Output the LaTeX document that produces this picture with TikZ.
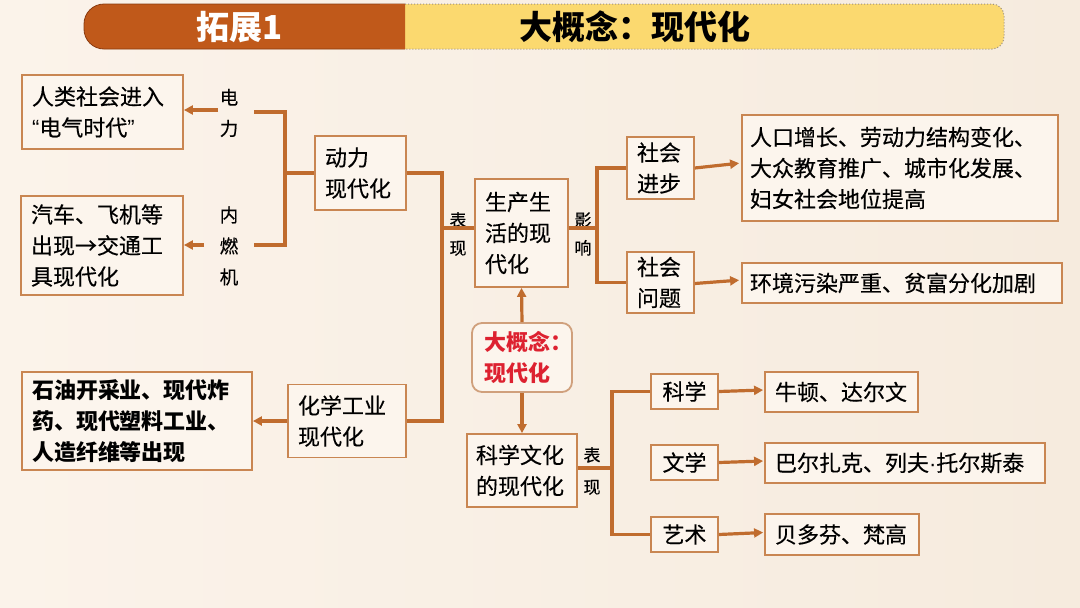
\documentclass[tikz,border=0pt]{standalone}
\usepackage{fontspec}
\setmainfont{Noto Sans CJK SC}[FakeBold=0.35, BoldFeatures={FakeBold=0}]
\newfontfamily\latinf{Liberation Sans}
\usetikzlibrary{arrows.meta}
\definecolor{bgl}{HTML}{FBF3EA}
\definecolor{bgr}{HTML}{F6EBDE}
\definecolor{boxc}{HTML}{C98652}
\definecolor{boxf}{HTML}{FCF5ED}
\definecolor{linec}{HTML}{C06C2E}
\definecolor{bannero}{HTML}{C0591A}
\definecolor{bannerd}{HTML}{8A3A0E}
\definecolor{bannery}{HTML}{FBD96F}
\definecolor{dotc}{HTML}{9C9080}
\definecolor{redc}{HTML}{DD2130}
\definecolor{dgbord}{HTML}{D0A07C}
\newcommand\bodyf{\fontsize{22pt}{31pt}\selectfont}
\newcommand\smallf{\fontsize{18.5pt}{31pt}\selectfont}
\newcommand\headf{\fontsize{33pt}{36pt}\selectfont\bfseries}
\begin{document}
\begin{tikzpicture}[x=1pt,y=-1pt,
  bx/.style={draw=boxc, line width=1.8pt, fill=boxf, inner xsep=10pt, inner ysep=0pt, align=left, font=\bodyf, text=black},
  bxc/.style={bx, align=center},
  lbl/.style={font=\smallf, align=center, inner sep=0pt, text=black},
  ln/.style={draw=linec, line width=3.2pt},
  arr/.style={draw=linec, line width=3.2pt, -{Triangle[length=9pt,width=9pt]}}
]
\useasboundingbox (0,0) rectangle (1080,608);
\shade[left color=bgl, right color=bgr] (0,0) rectangle (1080,608);

% banner
\fill[bannery] (405,4) -- (992,4) to[out=0,in=90] (1004,16) -- (1004,37) to[out=-90,in=0] (992,49) -- (405,49) -- cycle;
\draw[dotc, line width=1pt, dotted] (405,4) -- (992,4) to[out=0,in=90] (1004,16) -- (1004,37) to[out=-90,in=0] (992,49) -- (405,49);
\draw[bannerd, fill=bannero, line width=0.8pt, rounded corners=20pt] (405,4) -- (84,4) -- (84,49) -- (405,49);
\fill[bannero] (380,4.4) rectangle (405,48.6);
\node[font=\headf, text=white, inner sep=0pt] (h1) at (240,27) {拓展1};
\node[font=\headf, text=black, inner sep=0pt] (h2) at (635,27) {大概念：现代化};

% left boxes
\node[bx, text width=141pt, minimum height=74pt] (n1) at (102.5,112) {人类社会进入\\{\latinf “}电气时代{\latinf ”}};
\node[bx, text width=142pt, minimum height=99pt] (n2) at (102,245.5) {汽车、飞机等\\出现→交通工\\具现代化};
\node[bx, text width=71pt, minimum height=74pt] (dl) at (360.5,173) {动力\\现代化};
\node[bx, text width=98pt, minimum height=73pt] (ch) at (347,421) {化学工业\\现代化};
\node[bx, text width=210pt, minimum height=98pt, font=\bodyf\bfseries] (sy) at (137,421) {石油开采业、现代炸\\药、现代塑料工业、\\人造纤维等出现};

% centre
\node[bx, text width=73pt, minimum height=108pt] (sc) at (521.5,233) {生产生\\活的现\\代化};
\node[bx, draw=dgbord, rounded corners=10pt, inner xsep=12pt, text width=76pt, minimum height=69pt, text=redc, font=\bodyf\bfseries] (dg) at (522,357.5) {大概念：\\现代化};
\node[bx, inner xsep=9pt, text width=92pt, minimum height=73pt] (kx) at (522,470.5) {科学文化\\的现代化};

% right upper
\node[bx, text width=47pt, minimum height=62pt] (sj) at (660.5,168) {社会\\进步};
\node[bx, text width=47pt, minimum height=61pt] (sw) at (660.5,282.5) {社会\\问题};
\node[bx, inner xsep=8pt, text width=300pt, minimum height=106pt] (rk) at (900,168) {人口增长、劳动力结构变化、\\大众教育推广、城市化发展、\\妇女社会地位提高};
\node[bx, inner xsep=8pt, text width=304pt, minimum height=40pt] (hj) at (902,283) {环境污染严重、贫富分化加剧};

% right lower
\node[bxc, inner xsep=4pt, text width=59pt, minimum height=35pt] (kxue) at (684.5,391.5) {科学};
\node[bxc, inner xsep=4pt, text width=59pt, minimum height=35pt] (wx) at (684.5,462.5) {文学};
\node[bxc, inner xsep=4pt, text width=59pt, minimum height=35pt] (ys) at (684.5,534.5) {艺术};
\node[bx, text width=133pt, minimum height=40pt] (nd) at (841.5,392) {牛顿、达尔文};
\node[bx, text width=260pt, minimum height=40pt] (bz) at (905,463) {巴尔扎克、列夫{\latinf ·}托尔斯泰};
\node[bx, text width=134pt, minimum height=41pt] (bd) at (842,534.5) {贝多芬、梵高};

% labels
\node[lbl] (ldl) at (229,113) {电\\力};
\node[lbl] (lnr) at (229,246) {内\\燃\\机};
\node[lbl, font=\fontsize{17pt}{28pt}\selectfont] (lbx1) at (458,234) {表\\现};
\node[lbl, font=\fontsize{17pt}{28pt}\selectfont] (lyx) at (583,234) {影\\响};
\node[lbl, font=\fontsize{17pt}{32pt}\selectfont] (lbx2) at (592,471) {表\\现};

% connectors left
\coordinate (a1) at (218,110);
\coordinate (a2) at (204,245);
\draw[arr] (a1) -- (a1 -| n1.east);
\draw[arr] (a2) -- (a2 -| n2.east);
\coordinate (b1) at (254,112);
\coordinate (b2) at (254,245);
\coordinate (bj) at (285,173);
\draw[ln] (b1) -| (bj) |- (b2);
\draw[ln] (bj) -- (dl.west);
\coordinate (vL) at (442,228);
\draw[ln] (dl.east) -| (vL) |- (ch.east);
\draw[ln] (vL) -- (vL -| sc.west);
\draw[arr] (ch.west) -- (sy.east);

% connectors centre
\coordinate (vR) at (597,228);
\draw[ln] (vR -| sc.east) -- (vR);
\draw[ln] (sj.west) -| (vR) |- (sw.west);
\draw[arr, shorten >=2pt] (sj.east) -- ([yshift=5pt]rk.west);
\draw[arr, shorten >=2pt] ([yshift=-1pt]sw.east) -- ([yshift=3pt]hj.west);
\draw[arr] (dg.north) -- (sc.south);
\draw[arr] (dg.south) -- (kx.north);

% connectors lower right
\coordinate (vK) at (612,468);
\draw[ln] (vK -| kx.east) -- (vK);
\draw[ln] (kxue.west) -| (vK) |- (ys.west);
\draw[arr, shorten >=1pt] (kxue.east) -- ([yshift=2pt]nd.west);
\draw[arr, shorten >=1pt] (wx.east) -- ([yshift=2pt]bz.west);
\draw[arr, shorten >=1pt] (ys.east) -- ([yshift=2pt]bd.west);
\end{tikzpicture}
\end{document}
